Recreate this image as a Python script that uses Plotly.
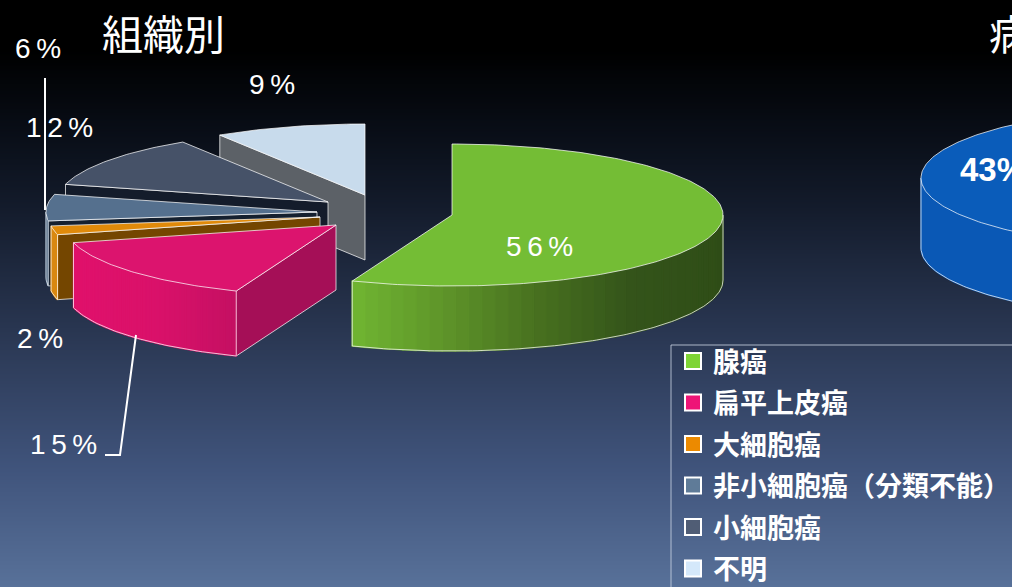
import math
import plotly.graph_objects as go

# ---------- data ----------
categories = ["腺癌", "扁平上皮癌", "大細胞癌", "非小細胞癌（分類不能）", "小細胞癌", "不明"]
shares = [56, 15, 2, 6, 12, 9]
second_pie_share = 43
chart_title = "組織別"
second_title = "病"

# ---------- style ----------
W, H = 1012, 587
RX, RY, DEPTH = 271, 71, 65
apex = [(452, 215), (336, 225), (320, 217), (317, 212), (328, 202), (365, 195)]
top_col = ["#74bd35", "#dc146e", "#e08a0a", "#55708e", "#465268", "#c8dbec"]
wall_col = [["#70b532", "#5e9429", "#47701f", "#34541a", "#2f4d17"],
            ["#e0116b", "#da116a", "#c41062"],
            ["#d98810"], ["#3f5a78"], ["#1a2536"], ["#5a5f66"]]
face_col = ["#70b532", "#a50f57", "#744600", "#15202f", "#141c2b", "#5c6167"]
swatch_col = ["#7ed435", "#ee1477", "#ec8a00", "#5f7b98", "#505d75", "#d4e8fa"]
label_pos = [(539, 246), (63, 444), (40, 338), (38, 48), (59, 127), (272, 84)]
EDGE = "rgba(255,255,255,0.72)"
bg_stops = [(0, "#000000"), (0.085, "#000000"), (0.2, "#070b13"), (0.35, "#131b2b"),
            (0.6, "#2d3b58"), (0.8, "#40547c"), (1, "#587199")]


def pt(a, cx, cy, dy=0):
    r = math.radians(a)
    return cx + RX * math.sin(r), cy - RY * math.cos(r) + dy


def arc(a0, a1, cx, cy, dy=0):
    n = max(2, int(abs(a1 - a0)) + 1)
    return [pt(a0 + (a1 - a0) * i / n, cx, cy, dy) for i in range(n + 1)]


def mix(stops, t):
    if len(stops) == 1:
        return stops[0]
    f = min(max(t, 0), 1) * (len(stops) - 1)
    i = min(int(f), len(stops) - 2)
    f -= i
    a, b = stops[i], stops[i + 1]
    ch = [round(int(a[k:k + 2], 16) * (1 - f) + int(b[k:k + 2], 16) * f) for k in (1, 3, 5)]
    return "#%02x%02x%02x" % tuple(ch)


fig = go.Figure()
fig.add_trace(go.Heatmap(x=[0, W], y=[i * H / 60 for i in range(61)],
                         z=[[i / 60, i / 60] for i in range(61)], zmin=0, zmax=1,
                         colorscale=[[s, c] for s, c in bg_stops], showscale=False,
                         zsmooth="best", hoverinfo="skip"))


def poly(points, fill, line=None, width=1):
    fig.add_trace(go.Scatter(x=[p[0] for p in points] + [points[0][0]],
                             y=[p[1] for p in points] + [points[0][1]],
                             mode="lines", fill="toself", fillcolor=fill,
                             line=dict(color=line or fill, width=width),
                             hoverinfo="skip", showlegend=False))


def wedge(a0, a1, cx, cy, depth, top, wall, face):
    # cut face at the start angle, when it looks towards the viewer
    if math.cos(math.radians(a0 - 90)) < -0.001:
        p = pt(a0, cx, cy)
        poly([(cx, cy), p, (p[0], p[1] + depth), (cx, cy + depth)], face, EDGE)
    # outer wall: the front half of the rim only
    w0, w1 = max(a0, 90), min(a1, 270)
    if w1 > w0:
        xs0, xs1 = pt(w0, cx, cy)[0], pt(w1, cx, cy)[0]
        n = 40 if len(wall) > 1 else 1
        for i in range(n):
            s0, s1 = w0 + (w1 - w0) * i / n, w0 + (w1 - w0) * (i + 1) / n
            up = arc(s0, s1, cx, cy)
            lo = arc(s1, s0, cx, cy, depth)
            t = (pt((s0 + s1) / 2, cx, cy)[0] - xs1) / (xs0 - xs1 or 1)
            poly(up + lo, mix(wall, t), width=1.5)
        fig.add_trace(go.Scatter(
            x=[p[0] for p in arc(w0, w1, cx, cy, depth)],
            y=[p[1] for p in arc(w0, w1, cx, cy, depth)],
            mode="lines", line=dict(color=EDGE, width=1), hoverinfo="skip", showlegend=False))
        for a in (w0, w1):
            p = pt(a, cx, cy)
            fig.add_trace(go.Scatter(x=[p[0], p[0]], y=[p[1], p[1] + depth], mode="lines",
                                     line=dict(color=EDGE, width=1), hoverinfo="skip",
                                     showlegend=False))
    poly([(cx, cy)] + arc(a0, a1, cx, cy), top, EDGE)


# angular extent of each slice, clockwise from 12 o'clock
total = sum(shares)
starts, ang = [], 0.0
for v in shares:
    starts.append(ang)
    ang += 360 * v / total

for i in [5, 4, 3, 2, 1, 0]:
    wedge(starts[i], starts[i] + 360 * shares[i] / total, apex[i][0], apex[i][1], DEPTH,
          top_col[i], wall_col[i], face_col[i])

# the second pie, almost entirely off the canvas
a0 = 192
wedge(a0, a0 + 360 * second_pie_share / 100, 1192, 178, 70, "#0a5cba", ["#0a58b5"], "#0a58b5")

# legend entries
for name, col in zip(categories, swatch_col):
    fig.add_trace(go.Scatter(x=[None], y=[None], mode="markers", name=name, legendgroup=name,
                             marker=dict(symbol="square", size=16, color=col,
                                         line=dict(color="white", width=2))))


def spaced(v):
    return "\u2009".join(str(v)) + "\u2009%"


ann = [dict(x=x, y=y, text=spaced(v), showarrow=False, xanchor="center", yanchor="middle",
            font=dict(family="Liberation Sans", size=28, color="white"))
       for (x, y), v in zip(label_pos, shares)]
ann.append(dict(x=100, y=32, text=chart_title, showarrow=False, xanchor="left", yanchor="middle",
                font=dict(family="Noto Sans CJK JP", size=41, color="white")))
ann.append(dict(x=987, y=32, text=second_title, showarrow=False, xanchor="left", yanchor="middle",
                font=dict(family="Noto Sans CJK JP", size=41, color="white")))
ann.append(dict(x=958, y=169, text=f"{second_pie_share}%", showarrow=False, xanchor="left",
                yanchor="middle",
                font=dict(family="Liberation Sans", size=33, color="white", weight=700)))

line = dict(color="white", width=2)
shapes = [dict(type="line", x0=45, y0=78, x1=45, y1=210, line=line),
          dict(type="path", path="M 136 335 L 120 455 L 105 455", line=line),
          dict(type="rect", x0=671, y0=345, x1=1040, y1=620,
               line=dict(color="rgba(205,215,230,0.8)", width=1))]

fig.update_layout(
    width=W, height=H, margin=dict(l=0, r=0, t=0, b=0, pad=0, autoexpand=False),
    paper_bgcolor="#000000", plot_bgcolor="#000000",
    xaxis=dict(range=[0, W], visible=False, fixedrange=True),
    yaxis=dict(range=[H, 0], visible=False, fixedrange=True),
    annotations=ann, shapes=shapes,
    legend=dict(x=673 / W, y=1 - 337 / H, xanchor="left", yanchor="top",
                bgcolor="rgba(0,0,0,0)", borderwidth=0, tracegroupgap=3.4, itemwidth=30,
                traceorder="grouped",
                font=dict(family="Noto Sans CJK JP", size=27, color="white", weight=700)),
    showlegend=True,
)
fig.write_html("out.html", config=dict(displayModeBar=False),
               post_script="document.body.style.margin='0';document.body.style.overflow='hidden';")
